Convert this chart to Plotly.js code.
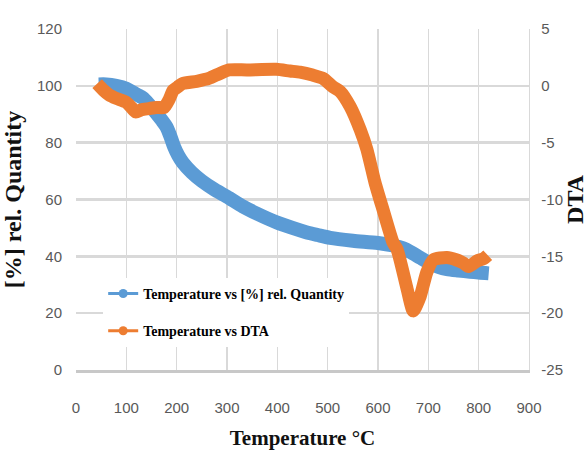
<!DOCTYPE html>
<html>
<head>
<meta charset="utf-8">
<script src="https://cdn.plot.ly/plotly-3.0.1.min.js"></script>
<style>html,body{margin:0;padding:0;background:#fff;}</style>
</head>
<body>
<div id="chart" style="width:588px;height:455px;"></div>
<script>
// Temperature (°C) vs [%] rel. Quantity (TGA)
var tgaTemp = [45, 60, 80, 100, 120, 133, 145, 159, 170, 180, 188, 195, 203, 212, 230, 250, 275, 300, 332, 360, 398, 430, 457, 480, 505, 550, 600, 630, 650, 665, 684, 704, 720, 737, 760, 783, 800, 820];
var tgaQty  = [100.5, 100.5, 100, 99, 97, 95.7, 93.5, 90.5, 88, 85.5, 82, 78.5, 75.5, 73, 69.5, 66.5, 63.5, 61, 57.5, 55, 52, 50, 48.5, 47.5, 46.5, 45.5, 44.7, 43.8, 42.8, 41.5, 39.5, 37.5, 36.3, 35.5, 35, 34.6, 34.3, 34];

// Temperature (°C) vs DTA
var dtaTemp = [42, 55, 66, 80, 100, 110, 119, 130, 145, 160, 175, 185, 193, 202, 212, 240, 264, 284, 304, 340, 398, 425, 445, 470, 491, 511, 525, 545, 565, 578, 594, 610, 630, 638, 658, 670, 684, 697, 710, 737, 755, 770, 780, 797, 810, 818];
var dtaVal  = [0.2, -0.4, -0.8, -1.1, -1.45, -1.9, -2.3, -2.1, -2.0, -1.9, -1.9, -1.2, -0.4, -0.1, 0.2, 0.4, 0.65, 1.05, 1.4, 1.4, 1.45, 1.3, 1.2, 0.95, 0.65, -0.1, -0.5, -1.85, -3.9, -5.6, -8.5, -10.9, -13.8, -14.4, -17.9, -19.8, -18.5, -16.4, -15.3, -15.1, -15.3, -15.6, -15.9, -15.4, -15.2, -14.9];

var xTicks = [0, 100, 200, 300, 400, 500, 600, 700, 800, 900];
var yTicks = [0, 20, 40, 60, 80, 100, 120];
var y2Ticks = [-25, -20, -15, -10, -5, 0, 5];

var seriesNames = ['Temperature vs [%] rel. Quantity', 'Temperature vs DTA'];
var blue = '#5b9bd5', orange = '#ed7d31';

var tickFont = {family: 'Liberation Sans Narrow, Arial Narrow, sans-serif', size: 15, color: '#595959'};
var titleFont = {family: 'Liberation Serif, Times New Roman, serif', size: 24, color: '#111111', weight: 700};

var traces = [
  {x: tgaTemp, y: tgaQty, mode: 'lines', line: {color: blue, width: 14, shape: 'spline', smoothing: 0.8}, showlegend: false, yaxis: 'y', hoverinfo: 'skip'},
  {x: dtaTemp, y: dtaVal, mode: 'lines', line: {color: orange, width: 13, shape: 'spline', smoothing: 0.6}, showlegend: false, yaxis: 'y2', hoverinfo: 'skip'},
  {x: [null], y: [null], mode: 'lines+markers', name: seriesNames[0], legendgroup: 'a', line: {color: blue, width: 3}, marker: {color: blue, size: 9}},
  {x: [null], y: [null], mode: 'lines+markers', name: seriesNames[1], legendgroup: 'b', line: {color: orange, width: 3}, marker: {color: orange, size: 9}}
];

var layout = {
  width: 588, height: 455,
  margin: {l: 76, r: 59, t: 29, b: 85},
  paper_bgcolor: '#ffffff', plot_bgcolor: '#ffffff',
  showlegend: true,
  legend: {x: 0.06, y: 0.27, xanchor: 'left', yanchor: 'top', bgcolor: '#ffffff',
           font: {family: 'Liberation Serif, Times New Roman, serif', size: 14, color: '#000000', weight: 700},
           tracegroupgap: 16, itemwidth: 30},
  xaxis: {range: [0, 900], tickvals: xTicks, ticktext: xTicks.map(String), showgrid: true, gridcolor: '#d9d9d9', gridwidth: 1.3,
          zeroline: false, showline: true, linecolor: '#c8c8c8', linewidth: 3,
          ticks: 'outside', ticklen: 22, tickcolor: 'rgba(0,0,0,0)', tickfont: tickFont,
          title: {text: 'Temperature °C', font: {family: 'Liberation Serif, Times New Roman, serif', size: 21, color: '#111111', weight: 700}, standoff: 16}},
  yaxis: {range: [0, 120], tickvals: yTicks, ticktext: yTicks.map(String), showgrid: true, gridcolor: '#d9d9d9', gridwidth: 2.5,
          zeroline: false, showline: false, ticks: 'outside', ticklen: 10, tickcolor: 'rgba(0,0,0,0)', tickfont: tickFont,
          title: {text: '[%] rel. Quantity', font: titleFont, standoff: 12}},
  yaxis2: {range: [-25, 5], tickvals: y2Ticks, ticktext: y2Ticks.map(String), overlaying: 'y', side: 'right', showgrid: false,
           zeroline: false, showline: true, linecolor: '#d9d9d9', linewidth: 1.3, ticks: 'outside', ticklen: 8, tickcolor: 'rgba(0,0,0,0)', tickfont: tickFont,
           title: {text: 'DTA', font: titleFont, standoff: 8}}
};

Plotly.newPlot('chart', traces, layout, {displayModeBar: false, staticPlot: true});
</script>
</body>
</html>
